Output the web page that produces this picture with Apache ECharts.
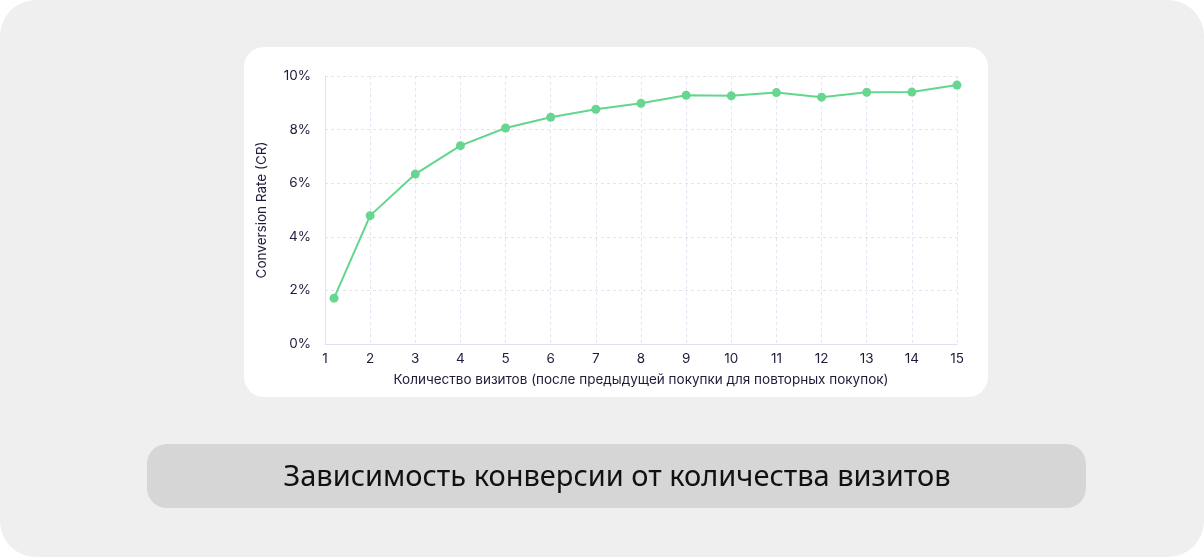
<!DOCTYPE html>
<html lang="ru">

<head>
    <meta charset="UTF-8">
    <title>Зависимость конверсии от количества визитов</title>
    <script src="https://cdn.jsdelivr.net/npm/echarts@6/dist/echarts.min.js"></script>
    <style>
        html, body { margin: 0; padding: 0; background: #ffffff; }
    </style>
</head>

<body>
    <div id="main" style="width: 1204px; height: 557px;"></div>
    <script>
        // количество визитов и конверсия, %
        var visits = [1.2, 2, 3, 4, 5, 6, 7, 8, 9, 10, 11, 12, 13, 14, 15];
        var crValues = [1.71, 4.79, 6.34, 7.40, 8.06, 8.46, 8.76, 8.98, 9.28, 9.26, 9.38, 9.21, 9.39, 9.40, 9.66];

        var titleText = 'Зависимость конверсии от количества визитов';
        var xName = 'Количество визитов (после предыдущей покупки для повторных покупок)';
        var yName = 'Conversion Rate (CR)';

        var labelColor = '#1d1d3b';
        var fontName = 'Inter, "Noto Sans", sans-serif';

        var myChart = echarts.init(document.getElementById('main'));

        var option = {
            backgroundColor: '#ffffff',
            animation: false,
            graphic: [
                { type: 'rect', z: -10, shape: { x: 0, y: 0, width: 1204, height: 557, r: 36 }, style: { fill: '#efefef' } },
                { type: 'rect', z: -9, shape: { x: 244, y: 47, width: 744, height: 350, r: 20 }, style: { fill: '#ffffff' } },
                { type: 'rect', z: -9, shape: { x: 147, y: 444, width: 939, height: 64, r: 20 }, style: { fill: '#d6d6d6' } },
                {
                    type: 'text', z: 10, x: 617, y: 478,
                    style: {
                        text: titleText, font: '400 29px "Noto Sans", sans-serif', fill: '#111111',
                        align: 'center', verticalAlign: 'middle'
                    }
                }
            ],
            grid: { left: 325, right: 247, top: 76, bottom: 213 },
            xAxis: {
                type: 'value',
                min: 1,
                max: 15,
                interval: 1,
                name: xName,
                nameLocation: 'middle',
                nameGap: 29,
                nameTextStyle: { color: labelColor, fontSize: 13.5, fontFamily: fontName },
                axisLine: { show: true, lineStyle: { color: '#e0e0f0', width: 1 } },
                axisTick: { show: false },
                axisLabel: { color: labelColor, fontSize: 13.5, fontFamily: fontName, margin: 8 },
                splitLine: { show: true, lineStyle: { color: '#e4e4f0', type: [3, 3] } }
            },
            yAxis: {
                type: 'value',
                min: 0,
                max: 10,
                interval: 2,
                name: yName,
                nameLocation: 'middle',
                nameGap: 56,
                nameTextStyle: { color: labelColor, fontSize: 13.5, fontFamily: fontName },
                axisLine: { show: true, lineStyle: { color: '#e0e0f0', width: 1 } },
                axisTick: { show: false },
                axisLabel: { color: labelColor, fontSize: 13.5, fontFamily: fontName, margin: 14, formatter: '{value}%' },
                splitLine: { show: true, lineStyle: { color: '#e4e4f0', type: [3, 3] } }
            },
            series: [{
                type: 'line',
                data: visits.map(function (v, i) { return [v, crValues[i]]; }),
                symbol: 'circle',
                symbolSize: 9,
                lineStyle: { color: '#62d68d', width: 2 },
                itemStyle: { color: '#66d690' }
            }]
        };

        myChart.setOption(option);
    </script>
</body>

</html>
